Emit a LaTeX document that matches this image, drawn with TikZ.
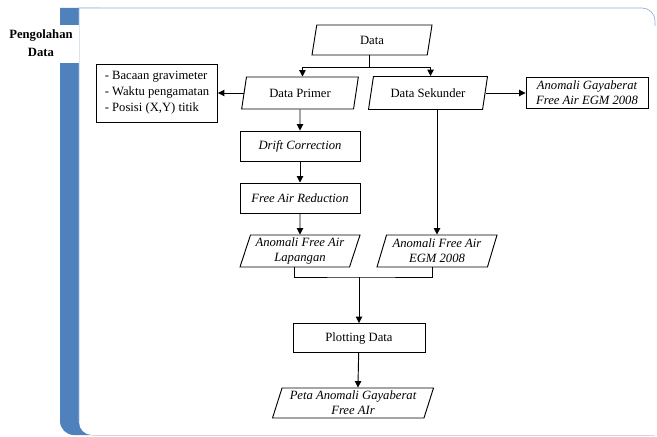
\documentclass[tikz,border=0pt]{standalone}
\usepackage{fontspec}
\setmainfont{Liberation Serif}
\usetikzlibrary{shapes.geometric,arrows.meta}

\definecolor{barblue}{RGB}{79,129,189}
\definecolor{panelline}{RGB}{150,180,215}
\definecolor{bottomline}{RGB}{215,215,215}

\tikzset{
  bagan/.style={
    every node/.style={font=\fontsize{10.8}{12.8}\selectfont,inner sep=2pt},
    line width=0.8pt,
    >={Triangle[length=5.5pt,width=5.5pt]}
  }
}

\begin{document}
\begin{tikzpicture}[x=0.03cm, y=0.03cm, bagan]
        \tikzstyle{proses}=[rectangle,draw,align=center]
        \tikzstyle{io}=[trapezium,draw,align=center,trapezium left angle=70,trapezium right angle=110,trapezium stretches body]
        \tikzstyle{miring}=[font=\fontsize{10.8}{12.8}\selectfont\itshape]

        \useasboundingbox (0,0) rectangle (657,436);

        % latar panel
        \fill[barblue] (60,428) -- (60,15) arc[start angle=180,end angle=270,radius=14] -- (100,1) -- (100,428) -- cycle;
        \fill[white] (79,428) -- (642,428) arc[start angle=90,end angle=0,radius=13] -- (655,1) -- (92,1) arc[start angle=270,end angle=180,radius=13] -- cycle;
        \draw[panelline,line width=0.6pt] (79,14) -- (79,428) -- (642,428) arc[start angle=90,end angle=0,radius=13] -- (655,410);
        \draw[bottomline,line width=0.6pt] (92,1) -- (655,1);
        \fill[white] (0,373) rectangle (79,411);
        \node[font=\fontsize{10.8}{15}\selectfont\bfseries,align=center] (judul) at (41,393) {Pengolahan\\Data};

        % bagan alir
        \node[io,minimum width=3.6cm,minimum height=0.9cm] (data) at (372,396) {Data};
        \node[io,minimum width=3.5cm,minimum height=0.96cm] (primer) at (300,343) {Data Primer};
        \node[io,minimum width=3.57cm,minimum height=0.99cm] (sekunder) at (428,343) {Data Sekunder};
        \node[proses,align=left,minimum width=3.63cm,minimum height=1.74cm,font=\fontsize{10.8}{13.6}\selectfont] (daftar) at (157,343) {- Bacaan gravimeter\\- Waktu pengamatan\\- Posisi (X,Y) titik};
        \node[proses,miring,minimum width=3.66cm,minimum height=0.93cm,inner sep=1pt] (gayaberat) at (587,343) {Anomali Gayaberat\\Free Air EGM 2008};
        \node[proses,miring,minimum width=3.6cm,minimum height=0.9cm] (drift) at (300,290) {Drift Correction};
        \node[proses,miring,minimum width=3.6cm,minimum height=0.9cm] (reduksi) at (300,238) {Free Air Reduction};
        \node[io,miring,minimum width=3.6cm,minimum height=0.96cm,inner sep=1pt] (lapangan) at (300,185) {Anomali Free Air\\Lapangan};
        \node[io,miring,minimum width=3.6cm,minimum height=0.96cm,inner sep=1pt] (egm) at (437,185) {Anomali Free Air\\EGM 2008};
        \node[proses,minimum width=3.96cm,minimum height=0.87cm] (plot) at (359,98) {Plotting Data};
        \node[io,miring,minimum width=4.83cm,minimum height=0.9cm,inner sep=1pt] (peta) at (353,33) {Peta Anomali Gayaberat\\Free AIr};

        \coordinate (gabung) at (359,159);

        \draw (data.bottom side) -- ++(0,-12) coordinate (cabang);
        \draw[->] (cabang) -| (primer.top side);
        \draw[->] (cabang) -| (sekunder.top side);
        \draw[->] (primer.left side) -- (daftar.east);
        \draw[->] (sekunder.right side) -- (gayaberat.west);
        \draw[->] (primer.south) -- (drift.north);
        \draw[->] (drift) -- (reduksi);
        \draw[->] (reduksi) -- (lapangan.north);
        \draw[->] (sekunder.south -| egm.north) -- (egm.north);
        \draw (lapangan.bottom side) |- (gabung) -| (egm.bottom side);
        \draw[->] (gabung) -- (plot);
        \draw[->] (plot) -- (peta.top side);
    \end{tikzpicture}
\end{document}
